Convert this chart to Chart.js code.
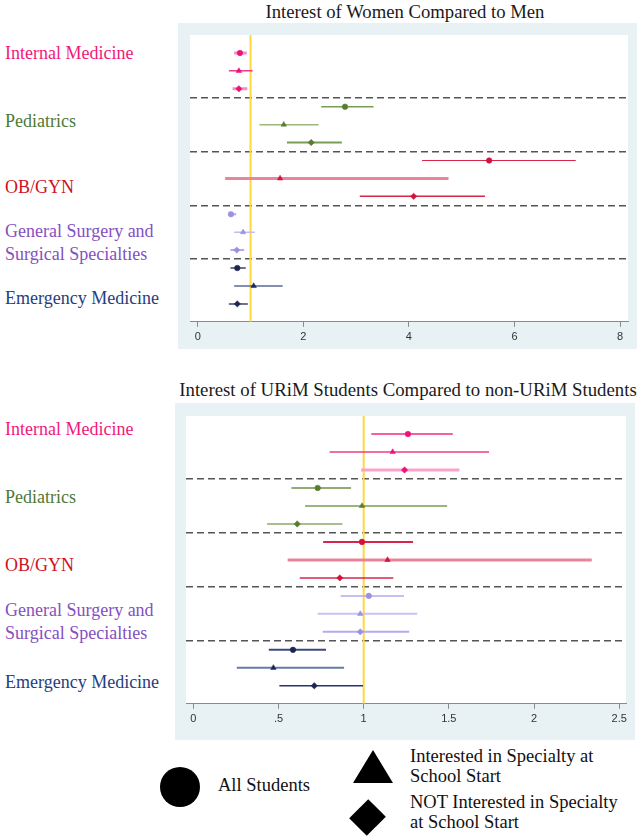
<!DOCTYPE html>
<html>
<head>
<meta charset="utf-8">
<script src="https://cdn.jsdelivr.net/npm/chart.js@4"></script>
<style>
  html, body { margin:0; padding:0; background:#fff; }
  #page { position:relative; width:642px; height:840px; overflow:hidden; font-family:"Liberation Serif","DejaVu Serif",serif; }
  .abs { position:absolute; white-space:nowrap; }
  .title { color:#1a1a1a; transform:translate(-50%,-50%); }
  .lab { font-size:18px; line-height:23px; transform:translateY(-50%); }
  canvas { position:absolute; }
  .leg { font-size:18.5px; color:#111; line-height:19.5px; }
</style>
</head>
<body>
<div id="page">
  <div class="abs title" style="left:405px;top:12px;font-size:18.7px;">Interest of Women Compared to Men</div>
  <div class="abs title" style="left:408px;top:390px;font-size:18.8px;">Interest of URiM Students Compared to non-URiM Students</div>
  <canvas id="c1" width="459" height="326" style="left:178px;top:23px;"></canvas>
  <canvas id="c2" width="460" height="337" style="left:175px;top:403px;"></canvas>
  <div id="labels"></div>
  <!-- legend -->
  <div class="abs" style="left:160px;top:767px;width:40px;height:40px;border-radius:50%;background:#000;"></div>
  <div class="abs leg" style="left:218px;top:776px;">All Students</div>
  <div class="abs" style="left:353px;top:750px;width:0;height:0;border-left:20px solid transparent;border-right:20px solid transparent;border-bottom:33px solid #000;"></div>
  <div class="abs" style="left:354px;top:804px;width:27px;height:27px;background:#000;transform:rotate(45deg) scale(0.92,1.0);"></div>
  <div class="abs leg" style="left:410px;top:747px;">Interested in Specialty at<br>School Start</div>
  <div class="abs leg" style="left:410px;top:793px;">NOT Interested in Specialty<br>at School Start</div>
</div>
<script>
// ---------------- DATA ----------------
const specialties = ['Internal Medicine', 'Pediatrics', 'OB/GYN', 'General Surgery and\nSurgical Specialties', 'Emergency Medicine'];
const groups = ['All Students', 'Interested in Specialty at School Start', 'NOT Interested in Specialty at School Start'];

// Interest of Women Compared to Men (rows: specialty x group)
const womenEst  = [0.80, 0.78, 0.78,  2.79, 1.63, 2.15,  5.52, 1.56, 4.09,  0.63, 0.86, 0.74,  0.75, 1.06, 0.75];
const womenLow  = [0.69, 0.59, 0.66,  2.34, 1.17, 1.69,  4.25, 0.52, 3.07,  0.58, 0.69, 0.62,  0.62, 0.69, 0.59];
const womenHigh = [0.93, 1.04, 0.94,  3.33, 2.29, 2.73,  7.16, 4.75, 5.44,  0.73, 1.08, 0.88,  0.91, 1.61, 0.95];

// Interest of URiM Students Compared to non-URiM Students
const urimEst  = [1.26, 1.17, 1.24,  0.73, 0.99, 0.61,  0.99, 1.14, 0.86,  1.03, 0.98, 0.98,  0.585, 0.47, 0.71];
const urimLow  = [1.045, 0.80, 0.985, 0.576, 0.656, 0.433, 0.762, 0.554, 0.625, 0.865, 0.73, 0.76, 0.443, 0.255, 0.505];
const urimHigh = [1.523, 1.736, 1.562, 0.926, 1.49, 0.875, 1.29, 2.339, 1.174, 1.237, 1.314, 1.267, 0.779, 0.885, 0.996];

const referenceValue = 1;
const topTicks = [0, 2, 4, 6, 8];
const topTickLabels = ['0', '2', '4', '6', '8'];
const bottomTicks = [0, 0.5, 1, 1.5, 2, 2.5];
const bottomTickLabels = ['0', '.5', '1', '1.5', '2', '2.5'];

// ---------------- STYLES ----------------
const labelColors = ['#f0197b', '#4d7a37', '#d0101e', '#8450c2', '#283d80'];
const markerColors = ['#ec127a', '#587d2e', '#d4103c', '#9c90e2', '#1c2652'];
const shapes = ['circle', 'triangle', 'rectRot'];
const topLine = [
  ['#f58fbd', 3], ['#ee3c8a', 1.5], ['#f58fbd', 3],
  ['#7a9c55', 1.5], ['#9ab77c', 1.5], ['#7a9c55', 2],
  ['#d8254c', 1.2], ['#e9849c', 3], ['#d8254c', 1.5],
  ['#b3abee', 2], ['#c2bbf2', 1.5], ['#b3abee', 2],
  ['#3a4470', 1.5], ['#5a6a98', 1.5], ['#3a4470', 1.5]
];
const bottomLine = [
  ['#ee2a84', 1.5], ['#ee3c8a', 1.5], ['#f9a3ca', 3],
  ['#6b8f45', 1.5], ['#7a9c55', 1.5], ['#8aa868', 1.5],
  ['#d8254c', 2], ['#e9849c', 3], ['#d8254c', 1.5],
  ['#b3abee', 1.5], ['#c8c2f4', 2], ['#b3abee', 2],
  ['#3e4a78', 2], ['#6a7aa6', 2], ['#28346a', 1.5]
];

const panelColor = '#e8f1f4';
const bgPlugin = {
  id: 'bg',
  beforeDraw(chart) {
    const {ctx, chartArea: a} = chart;
    ctx.save();
    ctx.fillStyle = panelColor;
    ctx.fillRect(0, 0, chart.width, chart.height);
    ctx.fillStyle = '#ffffff';
    ctx.fillRect(a.left, a.top, a.right - a.left, a.bottom - a.top);
    ctx.restore();
  }
};

function buildChart(canvasId, est, low, high, lineStyles, xmin, xmax, ticks, tickLabels, padding) {
  const nRows = est.length;
  const datasets = [];
  datasets.push({
    data: [{x: referenceValue, y: -1}, {x: referenceValue, y: nRows}],
    showLine: true, borderColor: '#ffd83a', borderWidth: 2, pointRadius: 0, order: 20
  });
  for (let i = 0; i < nRows; i++) {
    datasets.push({
      data: [{x: low[i], y: i}, {x: high[i], y: i}],
      showLine: true, borderColor: lineStyles[i][0], borderWidth: lineStyles[i][1],
      pointRadius: 0, order: 10
    });
  }
  datasets.push({
    data: est.map((v, i) => ({x: v, y: i})),
    showLine: false,
    pointStyle: est.map((v, i) => shapes[i % 3]),
    pointRadius: est.map((v, i) => (i % 3 === 0 ? 2.8 : 3.2)),
    pointBackgroundColor: est.map((v, i) => markerColors[Math.floor(i / 3)]),
    pointBorderColor: est.map((v, i) => markerColors[Math.floor(i / 3)]),
    pointBorderWidth: 0.5,
    order: 0
  });
  const boundaries = [];
  for (let g = 1; g < specialties.length; g++) boundaries.push(g * groups.length - 0.5);

  return new Chart(document.getElementById(canvasId), {
    type: 'scatter',
    data: { datasets },
    plugins: [bgPlugin],
    options: {
      responsive: false, animation: false, devicePixelRatio: 1,
      events: [],
      layout: { padding },
      plugins: { legend: { display: false }, tooltip: { enabled: false } },
      scales: {
        x: {
          type: 'linear', min: xmin, max: xmax,
          afterBuildTicks: (s) => { s.ticks = ticks.map(v => ({value: v})); },
          ticks: {
            callback: (v) => { const k = ticks.indexOf(v); return k >= 0 ? tickLabels[k] : ''; },
            font: { family: 'Liberation Sans', size: 11 }, color: '#333', padding: 4,
            autoSkip: false, maxRotation: 0
          },
          grid: { drawOnChartArea: false, drawTicks: true, tickLength: 5, color: '#8a8a8a', lineWidth: 1 },
          border: { display: true, color: '#8a8a8a', width: 1 }
        },
        y: {
          type: 'linear', min: -1, max: nRows, reverse: true,
          afterBuildTicks: (s) => { s.ticks = boundaries.map(v => ({value: v})); },
          ticks: { display: false },
          grid: { drawTicks: false, color: '#555', lineWidth: 1.5 },
          border: { display: false, dash: [7, 4] }
        }
      }
    }
  });
}

buildChart('c1', womenEst, womenLow, womenHigh, topLine, -0.146, 8.15, topTicks, topTickLabels,
  { left: 12, right: 9, top: 12, bottom: 1 });
buildChart('c2', urimEst, urimLow, urimHigh, bottomLine, -0.043, 2.54, bottomTicks, bottomTickLabels,
  { left: 11, right: 9, top: 13, bottom: 10 });

// specialty labels on the left
const labelTopY = [53, 120.7, 186.7, 243, 298.3];
const labelBotY = [429.3, 497.3, 565, 621.5, 681.7];
const labelsDiv = document.getElementById('labels');
[labelTopY, labelBotY].forEach(ys => {
  specialties.forEach((name, k) => {
    const d = document.createElement('div');
    d.className = 'abs lab';
    d.style.left = '5px';
    d.style.top = ys[k] + 'px';
    d.style.color = labelColors[k];
    d.innerHTML = name.replace('\n', '<br>');
    labelsDiv.appendChild(d);
  });
});
</script>
</body>
</html>
